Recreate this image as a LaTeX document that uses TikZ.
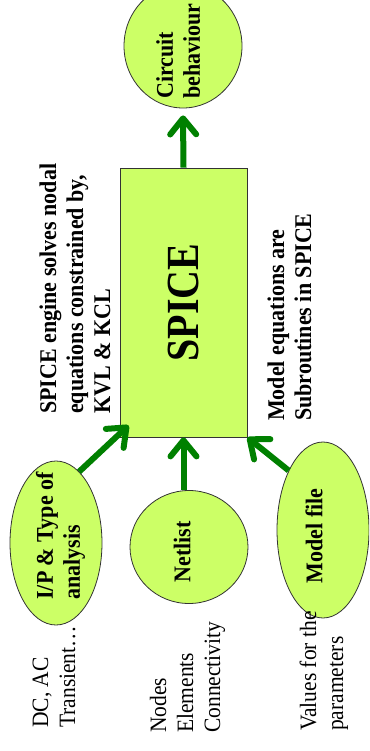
\documentclass[tikz,border=0pt]{standalone}
\usepackage{fontspec}
\setmainfont{Liberation Serif}
\usetikzlibrary{shapes.geometric,arrows.meta,calc}
\definecolor{bubblefill}{HTML}{CCFF66}
\definecolor{arrgreen}{HTML}{008000}
\definecolor{edgegray}{HTML}{333333}
\newcommand{\stk}[1]{\scalebox{1}[1.09]{\begin{tabular}{@{}l@{}}#1\end{tabular}}}
\begin{document}
\begin{tikzpicture}[x=1pt,y=-1pt,
  bubble/.style={ellipse, draw=edgegray, fill=bubblefill, line width=0.8pt, inner sep=0pt},
  box/.style={rectangle, draw=edgegray, fill=bubblefill, line width=0.8pt, inner sep=0pt},
  arr/.style={draw=arrgreen, line width=6pt, -{Straight Barb[length=16pt,width=26pt,round]}},
  boldtxt/.style={font=\bfseries\fontsize{22}{24.8}\selectfont, inner sep=0pt, rotate=90},
  plaintxt/.style={font=\fontsize{21.5}{24.8}\selectfont, inner sep=0pt, rotate=90}]
\clip (0,0) rectangle (369,751);
\fill[white] (0,0) rectangle (369,751);

% shapes
\node[box, minimum width=127pt, minimum height=269pt] (spice) at (183.5,302.5)
  {\rotatebox{90}{\fontsize{40}{40}\selectfont\bfseries\scalebox{1}[1.15]{SPICE}}};
\node[bubble, minimum width=118pt, minimum height=124pt] (circ) at (183,46) {};
\node[bubble, minimum width=92pt, minimum height=164pt] (ip) at (56,543) {};
\node[bubble, minimum width=118pt, minimum height=113pt] (net) at (189,547) {};
\node[bubble, minimum width=92pt, minimum height=176pt] (model) at (323,530) {};

% connectors
\draw[arr] (spice.north) -- ([yshift=-7pt]circ.south);
\draw[arr] (ip.72) -- ($(spice.south west)+(9,-12)$);
\draw[arr] (net.north -| spice.south) -- (spice.south);
\draw[arr] (model.120) -- (spice.south east);

% texts in shapes
\node[boldtxt] (circtxt) at (181,51) {\stk{Circuit\\behaviour}};
\node[boldtxt] (iptxt) at (61,536) {\stk{I/P \& Type of\\analysis}};
\node[boldtxt] (nettxt) at (185,552) {\stk{Netlist}};
\node[boldtxt] (modeltxt) at (317,536) {\stk{Model file}};

% side annotations
\node[boldtxt, anchor=north west] (engtxt) at (37,414)
  {\stk{SPICE engine solves nodal\\equations constrained by,\\KVL \& KCL}};
\node[boldtxt, anchor=north west] (subtxt) at (265,421)
  {\stk{Model equations are\\Subroutines in SPICE}};

% bottom notes
\node[plaintxt, anchor=north west] (dctxt) at (29,728) {\stk{DC, AC\\Transient…}};
\node[plaintxt, anchor=north west] (nodestxt) at (147,733) {\stk{Nodes\\Elements\\Connectivity}};
\node[plaintxt, anchor=north west] (valtxt) at (297,731) {\stk{Values for the\\parameters}};
\end{tikzpicture}
\end{document}
